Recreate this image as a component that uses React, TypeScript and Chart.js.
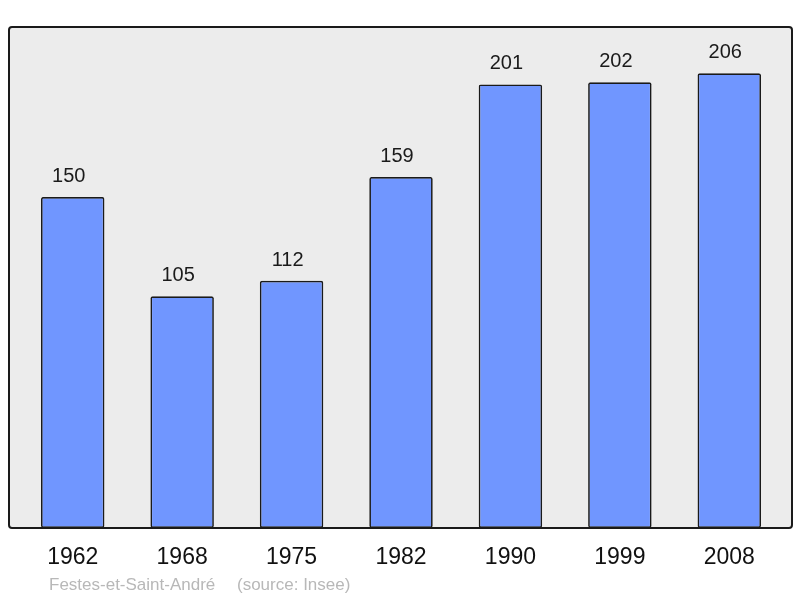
import React, { useEffect, useRef } from "react";
import { Chart, registerables } from "chart.js";

Chart.register(...registerables);

const years: string[] = ["1962", "1968", "1975", "1982", "1990", "1999", "2008"];
const population: number[] = [150, 105, 112, 159, 201, 202, 206];
const footerName = "Festes-et-Saint-André";
const footerSource = "(source: Insee)";

const FONT = "'Liberation Sans', Arial, sans-serif";

function framePath(ctx: CanvasRenderingContext2D) {
  const x0 = 9, y0 = 27, x1 = 792, y1 = 528;
  const r = 3;
  ctx.beginPath();
  ctx.moveTo(x0 + r, y0);
  ctx.lineTo(x1 - r, y0);
  ctx.quadraticCurveTo(x1, y0, x1, y0 + r);
  ctx.lineTo(x1, y1 - r);
  ctx.quadraticCurveTo(x1, y1, x1 - r, y1);
  ctx.lineTo(x0 + r, y1);
  ctx.quadraticCurveTo(x0, y1, x0, y1 - r);
  ctx.lineTo(x0, y0 + r);
  ctx.quadraticCurveTo(x0, y0, x0 + r, y0);
  ctx.closePath();
}

const framePlugin = {
  id: "frame",
  beforeDraw(chart: any) {
    const { ctx } = chart;
    ctx.save();
    framePath(ctx);
    ctx.fillStyle = "#ececec";
    ctx.fill();
    ctx.restore();
  },
  afterDatasetsDraw(chart: any) {
    const { ctx } = chart;
    const meta = chart.getDatasetMeta(0);
    ctx.save();
    ctx.font = `20px ${FONT}`;
    ctx.fillStyle = "#1a1a1a";
    ctx.textAlign = "center";
    ctx.textBaseline = "alphabetic";
    meta.data.forEach((bar: any, i: number) => {
      ctx.fillText(String(population[i]), bar.x - 4, bar.y - 15);
    });
    framePath(ctx);
    ctx.lineWidth = 2;
    ctx.strokeStyle = "#1a1a1a";
    ctx.stroke();
    ctx.font = `17px ${FONT}`;
    ctx.fillStyle = "#b8b8b8";
    ctx.textAlign = "left";
    ctx.fillText(footerName, 49, 590);
    ctx.fillText(footerSource, 237, 590);
    ctx.restore();
  },
};

export default function App() {
  const ref = useRef<HTMLCanvasElement>(null);
  useEffect(() => {
    document.body.style.margin = "0";
    const chart = new Chart(ref.current!, {
      type: "bar",
      data: {
        labels: years,
        datasets: [
          {
            data: population,
            backgroundColor: "#7096ff",
            borderColor: "#1a1a1a",
            borderWidth: 1.7,
            borderRadius: 2,
            borderSkipped: false,
            categoryPercentage: 1,
            barPercentage: 0.58,
          },
        ],
      },
      options: {
        responsive: false,
        animation: false,
        devicePixelRatio: 1,
        layout: { padding: { left: 18, right: 16, top: 27, bottom: 0 } },
        plugins: { legend: { display: false }, tooltip: { enabled: false }, title: { display: false } },
        scales: {
          y: { display: false, min: 0, max: 227 },
          x: {
            grid: { display: false, drawTicks: false },
            border: { display: false },
            ticks: { color: "#111111", font: { size: 23, family: FONT }, padding: 16, maxRotation: 0 },
            afterFit: (scale: any) => {
              scale.height = 70;
            },
          },
        },
      },
      plugins: [framePlugin],
    });
    return () => chart.destroy();
  }, []);
  return <canvas ref={ref} width={800} height={598} style={{ display: "block" }} />;
}
